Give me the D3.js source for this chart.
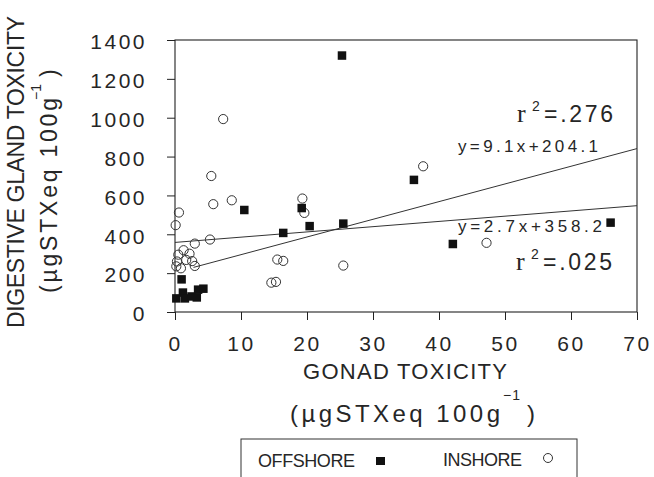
<!DOCTYPE html>
<html>
<head>
<meta charset="utf-8">
<script src="https://cdn.jsdelivr.net/npm/d3@7"></script>
<style>
  body { margin: 0; background: #fff; }
  svg { display: block; }
  text { font-family: "Liberation Sans", Arial, sans-serif; fill: #262626; }
</style>
</head>
<body>
<div id="chart"></div>
<script>
// values
const xTicks = [0, 10, 20, 30, 40, 50, 60, 70];
const yTicks = [0, 200, 400, 600, 800, 1000, 1200, 1400];

// OFFSHORE (filled squares): [gonad, digestive gland]
const offshore = [
    [25.3, 1320], [36.2, 680], [66.0, 460], [42.1, 350], [10.5, 525],
    [19.2, 535], [16.4, 407], [20.4, 442], [25.5, 455], [1.0, 168],
    [0.2, 70], [1.2, 100], [1.5, 70], [2.5, 80], [3.3, 75], [3.5, 115], [4.3, 120]
];

// INSHORE (open circles)
const inshore = [
    [7.3, 993], [37.6, 750], [5.5, 700], [8.6, 575], [5.8, 555],
    [19.3, 584], [19.6, 510], [0.6, 512], [0.1, 447], [5.3, 373],
    [3.0, 352], [47.2, 356], [25.5, 239], [15.5, 270], [16.4, 263],
    [14.6, 151], [15.3, 155],
    [0.3, 260], [0.5, 295], [0.9, 225], [1.3, 318], [1.7, 268],
    [2.2, 300], [2.6, 262], [3.0, 237], [0.2, 235]
];

// regression lines as printed on the figure
const fits = [
    { slope: 9.1, intercept: 204.1, from: 2.8, to: 70 },
    { slope: 2.7, intercept: 358.2, from: 0, to: 70 }
];

const width = 654, height = 477;
const plot = { left: 175, right: 637, top: 40, bottom: 312 };

const svg = d3.select("#chart")
    .append("svg")
    .attr("width", width)
    .attr("height", height);

const x = d3.scaleLinear().domain([0, 70]).range([plot.left, plot.right]);
const y = d3.scaleLinear().domain([0, 1400]).range([plot.bottom, plot.top]);

const ink = "#222";

// frame
svg.append("rect")
    .attr("x", plot.left)
    .attr("y", plot.top)
    .attr("width", plot.right - plot.left)
    .attr("height", plot.bottom - plot.top)
    .attr("fill", "none")
    .attr("stroke", ink)
    .attr("stroke-width", 1.1);

const yAxis = d3.axisLeft(y)
    .tickValues(yTicks)
    .tickSize(8)
    .tickPadding(20)
    .tickSizeOuter(0)
    .tickFormat(d3.format("d"));

const xAxis = d3.axisBottom(x)
    .tickValues(xTicks)
    .tickSize(8)
    .tickPadding(16)
    .tickSizeOuter(0)
    .tickFormat(d3.format("d"));

const gy = svg.append("g")
    .attr("transform", "translate(" + plot.left + ",0)")
    .call(yAxis);
gy.select(".domain").remove();
gy.selectAll("line").attr("stroke", ink);
gy.selectAll("text")
    .attr("font-size", 21)
    .attr("letter-spacing", 2.5)
    .attr("dy", "0.42em")
    .style("font-family", "Liberation Sans, Arial, sans-serif")
    .attr("fill", "#262626");

const gx = svg.append("g")
    .attr("transform", "translate(0," + plot.bottom + ")")
    .call(xAxis);
gx.select(".domain").remove();
gx.selectAll("line").attr("stroke", ink);
gx.selectAll("text")
    .attr("font-size", 21)
    .attr("letter-spacing", 2.5)
    .style("font-family", "Liberation Sans, Arial, sans-serif")
    .attr("fill", "#262626");

// fit lines
svg.append("g")
    .selectAll("line")
    .data(fits)
    .join("line")
    .attr("x1", d => x(d.from))
    .attr("y1", d => y(d.slope * d.from + d.intercept))
    .attr("x2", d => x(d.to))
    .attr("y2", d => y(d.slope * d.to + d.intercept))
    .attr("stroke", "#333")
    .attr("stroke-width", 1);

// inshore circles
svg.append("g")
    .selectAll("circle")
    .data(inshore)
    .join("circle")
    .attr("cx", d => x(d[0]))
    .attr("cy", d => y(d[1]))
    .attr("r", 4.6)
    .attr("fill", "none")
    .attr("stroke", "#333")
    .attr("stroke-width", 1);

// offshore squares
const sq = 8.5;
svg.append("g")
    .selectAll("rect")
    .data(offshore)
    .join("rect")
    .attr("x", d => x(d[0]) - sq / 2)
    .attr("y", d => y(d[1]) - sq / 2)
    .attr("width", sq)
    .attr("height", sq)
    .attr("fill", "#111");

// equations and r^2
function addText(txt, px, py, size, len, extra) {
    const t = svg.append("text")
        .attr("x", px)
        .attr("y", py)
        .attr("font-size", size)
        .text(txt);
    if (len) t.attr("textLength", len).attr("lengthAdjust", "spacing");
    if (extra) extra(t);
    return t;
}

function rSquared(label, px, py) {
    addText("r", px, py, 26, null, t => t.style("font-family", "Liberation Serif, Times New Roman, serif"));
    addText("2", px + 15, py - 11, 14);
    addText(label, px + 27, py, 23, 69);
}

rSquared("=.276", 517, 122);
rSquared("=.025", 516, 270);
addText("y=9.1x+204.1", 458, 152, 17, 140);
addText("y=2.7x+358.2", 458, 232, 17, 144);

// axis titles
addText("GONAD TOXICITY", 303, 379, 22, 204);
addText("(\u00b5gSTXeq 100g", 290, 422, 24, 210);
addText("\u22121", 503, 400, 14, 17);
addText(")", 527, 422, 24);

const yTitle = svg.append("g");
yTitle.append("text")
    .attr("transform", "translate(24,328) rotate(-90)")
    .attr("font-size", 23)
    .attr("textLength", 312)
    .attr("lengthAdjust", "spacing")
    .text("DIGESTIVE GLAND TOXICITY");
yTitle.append("text")
    .attr("transform", "translate(57,293) rotate(-90)")
    .attr("font-size", 23)
    .attr("textLength", 195)
    .attr("lengthAdjust", "spacing")
    .text("(\u00b5gSTXeq 100g");
yTitle.append("text")
    .attr("transform", "translate(41,100) rotate(-90)")
    .attr("font-size", 14)
    .attr("textLength", 16)
    .attr("lengthAdjust", "spacing")
    .text("\u22121");
yTitle.append("text")
    .attr("transform", "translate(57,77) rotate(-90)")
    .attr("font-size", 23)
    .text(")");

// legend
svg.append("rect")
    .attr("x", 241)
    .attr("y", 439)
    .attr("width", 336)
    .attr("height", 60)
    .attr("fill", "none")
    .attr("stroke", "#333")
    .attr("stroke-width", 1);

addText("OFFSHORE", 258, 467, 18, 97);
svg.append("rect")
    .attr("x", 376)
    .attr("y", 457)
    .attr("width", 9)
    .attr("height", 8)
    .attr("fill", "#111");
addText("INSHORE", 443, 466, 18, 79);
svg.append("circle")
    .attr("cx", 548)
    .attr("cy", 458)
    .attr("r", 4.5)
    .attr("fill", "none")
    .attr("stroke", "#333")
    .attr("stroke-width", 1);
</script>
</body>
</html>
